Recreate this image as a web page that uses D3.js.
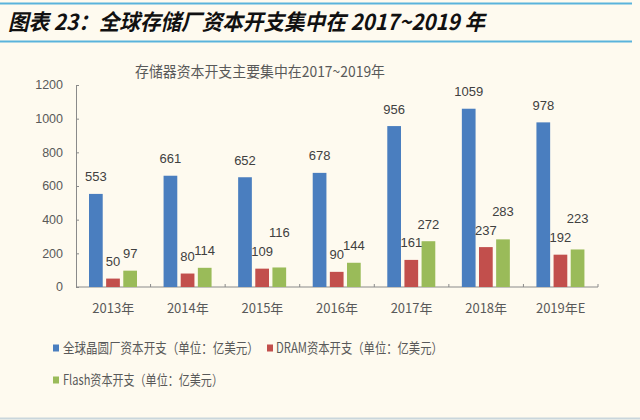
<!DOCTYPE html>
<html>
<head>
<meta charset="utf-8">
<script src="https://cdn.jsdelivr.net/npm/d3@7"></script>
<style>
  body { margin: 0; background: #fefaef; }
  svg { display: block; }
</style>
</head>
<body>
<div id="chart"></div>
<script>
// values (亿美元)
var years = ["2013年", "2014年", "2015年", "2016年", "2017年", "2018年", "2019年E"];
var fabCapex = [553, 661, 652, 678, 956, 1059, 978];
var dramCapex = [50, 80, 109, 90, 161, 237, 192];
var flashCapex = [97, 114, 116, 144, 272, 283, 223];
var yTicks = [0, 200, 400, 600, 800, 1000, 1200];
var seriesNames = ["全球晶圆厂资本开支（单位：亿美元）", "DRAM资本开支（单位：亿美元）", "Flash资本开支（单位：亿美元）"];
var seriesColors = ["#4a7ebf", "#c24f4c", "#9abb59"];

var W = 640, H = 420;
var cjk = "'Noto Sans CJK SC', sans-serif";
var num = "'Liberation Sans', Arial, sans-serif";

var svg = d3.select("#chart").append("svg")
    .attr("width", W)
    .attr("height", H);

svg.append("rect").attr("width", W).attr("height", H).attr("fill", "#fefaef");

// report header
svg.append("line").attr("x1", 0).attr("x2", 632).attr("y1", 3.5).attr("y2", 3.5)
    .attr("stroke", "#5ab3dc").attr("stroke-width", 2);
svg.append("line").attr("x1", 0).attr("x2", 632).attr("y1", 41.5).attr("y2", 41.5)
    .attr("stroke", "#5ab3dc").attr("stroke-width", 2);
svg.append("text")
    .attr("x", 8).attr("y", 30)
    .attr("font-family", cjk)
    .attr("font-size", 22).attr("font-weight", "bold").attr("font-style", "italic")
    .attr("fill", "#111")
    .attr("textLength", 477).attr("lengthAdjust", "spacingAndGlyphs")
    .text("图表 23：全球存储厂资本开支集中在 2017~2019 年");

svg.append("line").attr("x1", 0).attr("x2", W).attr("y1", 418.5).attr("y2", 418.5)
    .attr("stroke", "#c9d6dc").attr("stroke-width", 2);

// chart title
svg.append("text")
    .attr("x", 260).attr("y", 77)
    .attr("text-anchor", "middle")
    .attr("font-family", cjk).attr("font-size", 15)
    .attr("fill", "#595959")
    .attr("textLength", 250).attr("lengthAdjust", "spacingAndGlyphs")
    .text("存储器资本开支主要集中在2017~2019年");

var x = d3.scaleBand()
    .domain(years)
    .range([76, 598]);

var xs = d3.scaleBand()
    .domain([0, 1, 2])
    .range([13, 61])
    .paddingInner(0.2);

var y = d3.scaleLinear()
    .domain([0, 1200])
    .range([287, 85]);

// y axis
var yAxis = svg.append("g")
    .attr("transform", "translate(76,0)")
    .call(d3.axisRight(y).tickValues(yTicks).tickSize(3).tickFormat(""));
yAxis.select(".domain").attr("stroke", "#8a8a8a");
yAxis.selectAll(".tick line").attr("stroke", "#8a8a8a");

svg.selectAll(".ylab")
    .data(yTicks)
  .enter().append("text")
    .attr("class", "ylab")
    .attr("x", 63)
    .attr("y", function(d){ return y(d); })
    .attr("dy", "0.35em")
    .attr("text-anchor", "end")
    .attr("font-family", num).attr("font-size", 12.5)
    .attr("fill", "#595959")
    .text(function(d){ return d; });

// x axis, ticks between the categories pointing up
var xAxis = svg.append("g")
    .attr("transform", "translate(0," + y(0) + ")");
xAxis.append("line")
    .attr("x1", x.range()[0]).attr("x2", x.range()[1])
    .attr("stroke", "#8a8a8a");
xAxis.selectAll(".xtick")
    .data(years.slice(1).concat(["end"]))
  .enter().append("line")
    .attr("x1", function(d, i){ return x.range()[0] + x.step() * (i + 1); })
    .attr("x2", function(d, i){ return x.range()[0] + x.step() * (i + 1); })
    .attr("y1", 0).attr("y2", -3)
    .attr("stroke", "#8a8a8a");

svg.selectAll(".xlab")
    .data(years)
  .enter().append("text")
    .attr("class", "xlab")
    .attr("x", function(d){ return x(d) + x.bandwidth() / 2; })
    .attr("y", 313)
    .attr("text-anchor", "middle")
    .attr("font-family", cjk).attr("font-size", 13)
    .attr("fill", "#595959")
    .text(function(d){ return d; });

var series = [fabCapex, dramCapex, flashCapex];

series.forEach(function(vals, s){
    svg.selectAll(".bar" + s)
        .data(vals)
      .enter().append("rect")
        .attr("class", "bar" + s)
        .attr("x", function(d, i){ return x(years[i]) + xs(s); })
        .attr("y", function(d){ return y(d); })
        .attr("width", xs.bandwidth())
        .attr("height", function(d){ return y(0) - y(d); })
        .attr("fill", seriesColors[s]);
});

var labels = series.map(function(vals, s){
    return svg.selectAll(".val" + s)
        .data(vals)
      .enter().append("text")
        .attr("class", "val" + s)
        .attr("x", function(d, i){ return x(years[i]) + xs(s) + xs.bandwidth() / 2; })
        .attr("y", function(d){ return y(d) - 12.5; })
        .attr("text-anchor", "middle")
        .attr("font-family", num).attr("font-size", 13)
        .attr("fill", "#404040")
        .text(function(d){ return d; });
});

// lift a flash label above the DRAM one when they collide
labels[2].each(function(d, i){
    var red = labels[1].nodes()[i].getBBox();
    var g = this.getBBox();
    var hOverlap = Math.min(red.x + red.width, g.x + g.width) - Math.max(red.x, g.x);
    var vOverlap = Math.min(red.y + red.height, g.y + g.height) - Math.max(red.y, g.y);
    if (hOverlap > 1 && vOverlap > 0) {
        d3.select(this).attr("y", +labels[1].nodes()[i].getAttribute("y") - 19);
    }
});

// legend (the reference uses a narrow face, so squeeze each entry horizontally)
var legendRows = [
    {x: 53, tx: 63, y: 348, len: 196},
    {x: 267, tx: 276, y: 348, len: 167},
    {x: 53, tx: 63, y: 380, len: 160}
];
var legend = svg.selectAll(".legend")
    .data(seriesNames)
  .enter().append("g")
    .attr("class", "legend");
legend.append("rect")
    .attr("x", function(d, i){ return legendRows[i].x; })
    .attr("y", function(d, i){ return legendRows[i].y - 3.5; })
    .attr("width", 6).attr("height", 7)
    .attr("fill", function(d, i){ return seriesColors[i]; });
legend.append("text")
    .attr("x", 0)
    .attr("y", 0)
    .attr("dy", "0.36em")
    .attr("font-family", cjk).attr("font-size", 14)
    .attr("fill", "#595959")
    .text(function(d){ return d; })
    .attr("transform", function(d, i){
        var k = legendRows[i].len / this.getComputedTextLength();
        return "translate(" + legendRows[i].tx + "," + legendRows[i].y + ") scale(" + k + ",1)";
    });
</script>
</body>
</html>
